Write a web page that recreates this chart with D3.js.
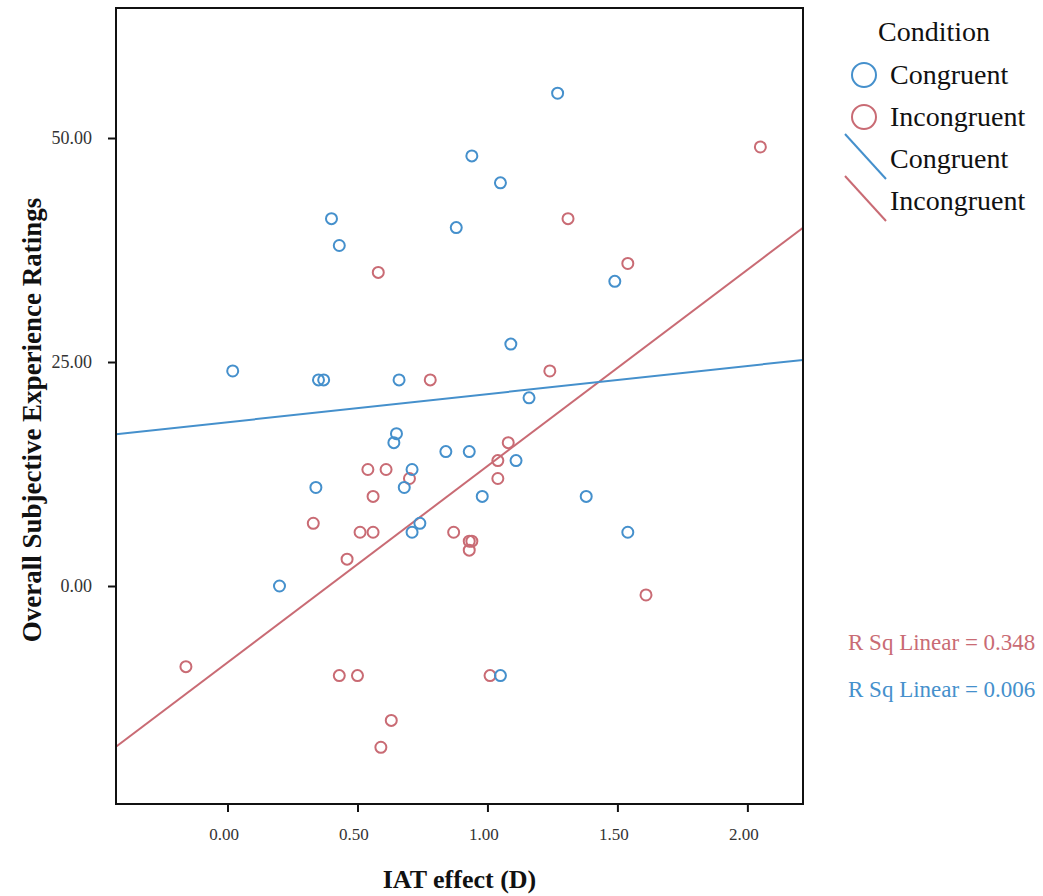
<!DOCTYPE html>
<html>
<head>
<meta charset="utf-8">
<script src="https://cdn.jsdelivr.net/npm/d3@7"></script>
<style>
  body { margin: 0; background: #fff; }
  text { font-family: "Liberation Serif", "Times New Roman", serif; }
</style>
</head>
<body>
<div id="chart"></div>
<script>
// Congruent condition: [IAT effect D, rating]
const congruent = [
    [1.27, 55], [0.94, 48], [1.05, 45], [0.40, 41], [0.88, 40], [0.43, 38],
    [1.49, 34], [1.09, 27], [0.02, 24], [0.35, 23], [0.37, 23], [0.66, 23],
    [1.16, 21], [0.65, 17], [0.64, 16], [0.84, 15], [0.93, 15], [1.11, 14],
    [0.71, 13], [0.34, 11], [0.68, 11], [0.98, 10], [1.38, 10], [0.74, 7],
    [0.71, 6], [1.54, 6], [0.20, 0], [1.05, -10]
]

// Incongruent condition
const incongruent = [
    [2.05, 49], [1.31, 41], [1.54, 36], [0.58, 35], [1.24, 24], [0.78, 23],
    [1.08, 16], [1.04, 14], [0.54, 13], [0.61, 13], [0.70, 12], [1.04, 12],
    [0.56, 10], [0.33, 7], [0.51, 6], [0.56, 6], [0.87, 6], [0.93, 5],
    [0.94, 5], [0.93, 4], [0.46, 3], [1.61, -1], [-0.16, -9], [0.43, -10],
    [0.50, -10], [1.01, -10], [0.63, -15], [0.59, -18]
]

// Linear fit lines: [intercept, slope]
const fitCongruent = [18.28, 3.14]
const fitIncongruent = [-8.54, 21.92]

const xTicks = [0, 0.5, 1, 1.5, 2]
const yTicks = [0, 25, 50]
const rSquared = {congruent: '0.006', incongruent: '0.348'}

const blue = '#4590cc'
const red = '#c96b74'

const width = 1043, height = 896
const plot = {left: 116, top: 8, right: 803, bottom: 804}

const svg = d3.select('#chart')
    .append('svg')
    .attr('width', width)
    .attr('height', height)

const x = d3.scaleLinear()
    .domain([-0.429, 2.214])
    .range([plot.left, plot.right])

const y = d3.scaleLinear()
    .domain([-24.33, 64.51])
    .range([plot.bottom, plot.top])

// Axes
const xAxis = svg.append('g')
    .attr('transform', `translate(0, ${plot.bottom})`)
    .call(d3.axisBottom(x).tickValues(xTicks).tickFormat(d3.format('.2f')).tickSize(8).tickSizeOuter(0))
xAxis.select('.domain').remove()
xAxis.selectAll('line').attr('stroke', '#111').attr('stroke-width', 2)
xAxis.selectAll('text')
    .attr('dy', 0)
    .attr('y', 36)
    .attr('dx', -4)
    .style('font-family', '"Liberation Serif", serif')
    .style('font-size', '17px')
    .attr('fill', '#333')

const yAxis = svg.append('g')
    .attr('transform', `translate(${plot.left}, 0)`)
    .call(d3.axisLeft(y).tickValues(yTicks).tickFormat(d3.format('.2f')).tickSize(8).tickSizeOuter(0))
yAxis.select('.domain').remove()
yAxis.selectAll('line').attr('stroke', '#111').attr('stroke-width', 2)
yAxis.selectAll('text')
    .attr('x', -24)
    .style('font-family', '"Liberation Serif", serif')
    .style('font-size', '18px')
    .attr('fill', '#333')

// Clip for fit lines
svg.append('clipPath')
    .attr('id', 'plot-clip')
    .append('rect')
    .attr('x', plot.left)
    .attr('y', plot.top)
    .attr('width', plot.right - plot.left)
    .attr('height', plot.bottom - plot.top)

const fits = [
    {coef: fitIncongruent, color: red},
    {coef: fitCongruent, color: blue}
]

svg.append('g')
    .attr('clip-path', 'url(#plot-clip)')
    .selectAll('line')
    .data(fits)
    .join('line')
    .attr('x1', x(x.domain()[0]))
    .attr('x2', x(x.domain()[1]))
    .attr('y1', d => y(d.coef[0] + d.coef[1] * x.domain()[0]))
    .attr('y2', d => y(d.coef[0] + d.coef[1] * x.domain()[1]))
    .attr('stroke', d => d.color)
    .attr('stroke-width', 2)

// Points
const points = svg.append('g')
points.selectAll('.incongruent')
    .data(incongruent)
    .join('circle')
    .attr('class', 'incongruent')
    .attr('cx', d => x(d[0]))
    .attr('cy', d => y(d[1]))
    .attr('r', 5.5)
    .attr('fill', 'none')
    .attr('stroke', red)
    .attr('stroke-width', 2)

points.selectAll('.congruent')
    .data(congruent)
    .join('circle')
    .attr('class', 'congruent')
    .attr('cx', d => x(d[0]))
    .attr('cy', d => y(d[1]))
    .attr('r', 5.5)
    .attr('fill', 'none')
    .attr('stroke', blue)
    .attr('stroke-width', 2)

// Frame
svg.append('rect')
    .attr('x', plot.left)
    .attr('y', plot.top)
    .attr('width', plot.right - plot.left)
    .attr('height', plot.bottom - plot.top)
    .attr('fill', 'none')
    .attr('stroke', '#111')
    .attr('stroke-width', 2)

// Axis titles
svg.append('text')
    .attr('x', (plot.left + plot.right) / 2)
    .attr('y', 888)
    .attr('text-anchor', 'middle')
    .style('font-size', '26px')
    .style('font-weight', 'bold')
    .attr('fill', '#111')
    .text('IAT effect (D)')

svg.append('text')
    .attr('transform', 'translate(41, 420) rotate(-90)')
    .attr('text-anchor', 'middle')
    .style('font-size', '27px')
    .style('font-weight', 'bold')
    .attr('fill', '#111')
    .text('Overall Subjective Experience Ratings')

// Legend
const legend = svg.append('g')
legend.append('text')
    .attr('x', 934)
    .attr('y', 41)
    .attr('text-anchor', 'middle')
    .style('font-size', '28px')
    .attr('fill', '#111')
    .text('Condition')

const legendItems = [
    {label: 'Congruent', color: blue, type: 'circle', cy: 75},
    {label: 'Incongruent', color: red, type: 'circle', cy: 117},
    {label: 'Congruent', color: blue, type: 'line', cy: 159},
    {label: 'Incongruent', color: red, type: 'line', cy: 201}
]

legendItems.forEach(d => {
    if (d.type === 'circle') {
        legend.append('circle')
            .attr('cx', 864)
            .attr('cy', d.cy)
            .attr('r', 12)
            .attr('fill', 'none')
            .attr('stroke', d.color)
            .attr('stroke-width', 2)
    } else {
        legend.append('line')
            .attr('x1', 845)
            .attr('y1', d.cy - 25)
            .attr('x2', 886)
            .attr('y2', d.cy + 20)
            .attr('stroke', d.color)
            .attr('stroke-width', 2)
    }
    legend.append('text')
        .attr('x', 890)
        .attr('y', d.cy + 9)
        .style('font-size', '28px')
        .attr('fill', '#111')
        .text(d.label)
})

// R squared labels
svg.append('text')
    .attr('x', 848)
    .attr('y', 650)
    .style('font-size', '23px')
    .attr('fill', red)
    .text(`R Sq Linear = ${rSquared.incongruent}`)

svg.append('text')
    .attr('x', 848)
    .attr('y', 697)
    .style('font-size', '23px')
    .attr('fill', blue)
    .text(`R Sq Linear = ${rSquared.congruent}`)
</script>
</body>
</html>
